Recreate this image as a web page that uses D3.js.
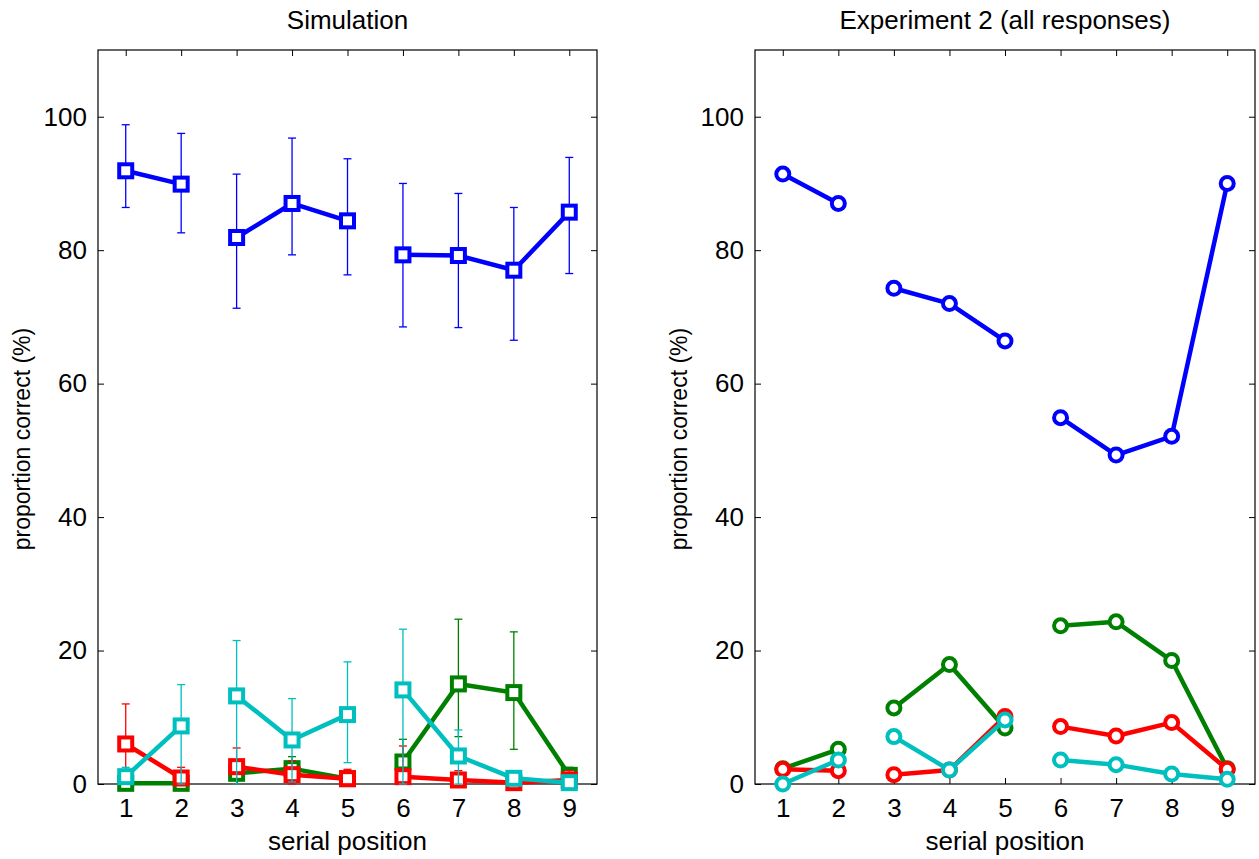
<!DOCTYPE html>
<html>
<head>
<meta charset="utf-8">
<script src="https://cdn.jsdelivr.net/npm/d3@7"></script>
<style>
  body { margin: 0; background: #fff; }
  text { font-family: "Liberation Sans", Arial, sans-serif; }
</style>
</head>
<body>
<div id="chart"></div>
<script>
// serial positions and line groups (lines are broken between groups)
const positions = [1, 2, 3, 4, 5, 6, 7, 8, 9];
const groups = [[1, 2], [3, 4, 5], [6, 7, 8, 9]];
const yTicks = [0, 20, 40, 60, 80, 100];

// Simulation panel: means and error bar ends
const simBlue   = [91.9, 89.9, 81.9, 87.0, 84.4, 79.3, 79.2, 77.0, 85.7];
const simBlueLo = [86.4, 82.6, 71.3, 79.3, 76.3, 68.5, 68.4, 66.5, 76.5];
const simBlueHi = [98.8, 97.5, 91.4, 96.8, 93.7, 90.0, 88.5, 86.4, 93.9];

const simGreen   = [0.1, 0.1, 1.6, 2.3, 0.8, 3.3, 15.0, 13.7, 1.3];
const simGreenLo = [0, 0, 0, 0.4, 0, 0, 7.1, 5.2, 0];
const simGreenHi = [0.5, 0.5, 3.5, 4.1, 2.0, 6.7, 24.7, 22.8, 2.5];

const simRed   = [6.0, 0.9, 2.6, 1.4, 0.8, 1.1, 0.6, 0.2, 0.6];
const simRedLo = [0, 0, 0, 0, 0, 0, 0, 0, 0];
const simRedHi = [12.0, 2.5, 5.4, 3.5, 2.2, 5.7, 2.0, 1.0, 2.0];

const simCyan   = [1.1, 8.7, 13.2, 6.6, 10.4, 14.1, 4.2, 0.85, 0.2];
const simCyanLo = [0, 0, 0, 0.3, 3.2, 0, 0, 0, 0];
const simCyanHi = [2.5, 14.9, 21.5, 12.8, 18.3, 23.2, 8.1, 2.0, 0.8];

// Experiment 2 panel
const expBlue  = [91.4, 87.0, 74.3, 72.0, 66.4, 54.9, 49.3, 52.1, 90.0];
const expGreen = [2.3, 5.2, 11.4, 17.9, 8.4, 23.7, 24.3, 18.5, 2.3];
const expRed   = [2.2, 2.0, 1.4, 2.1, 10.1, 8.6, 7.2, 9.2, 2.2];
const expCyan  = [0.0, 3.6, 7.1, 2.1, 9.6, 3.6, 2.9, 1.5, 0.7];

const colors = {blue: "#0000ff", green: "#008000", red: "#ff0000", cyan: "#00bfbf"};

const W = 1259, H = 859;
const fontSize = 26;
const svg = d3.select("#chart").append("svg")
    .attr("width", W)
    .attr("height", H);

function drawPanel(left, right, title, series, marker) {
  const top = 50, bottom = 784;
  const x = d3.scaleLinear().domain([0.5, 9.5]).range([left, right]);
  const y = d3.scaleLinear().domain([0, 110]).range([bottom, top]);
  const g = svg.append("g");

  // ticks (inward) on all four sides
  g.append("g").attr("transform", `translate(0,${bottom})`)
    .call(d3.axisBottom(x).tickValues(positions).tickSizeInner(-6).tickSizeOuter(0).tickPadding(15));
  g.append("g").attr("transform", `translate(0,${top})`)
    .call(d3.axisTop(x).tickValues(positions).tickSizeInner(-6).tickSizeOuter(0).tickFormat(""));
  g.append("g").attr("transform", `translate(${left},0)`)
    .call(d3.axisLeft(y).tickValues(yTicks).tickSizeInner(-6).tickSizeOuter(0).tickPadding(11));
  g.append("g").attr("transform", `translate(${right},0)`)
    .call(d3.axisRight(y).tickValues(yTicks).tickSizeInner(-6).tickSizeOuter(0).tickFormat(""));
  g.selectAll(".domain").remove();
  g.selectAll(".tick line").attr("stroke", "#000");
  g.selectAll(".tick text").attr("font-size", fontSize).attr("font-family", "Liberation Sans, Arial, sans-serif").attr("fill", "#000");

  g.append("rect")
    .attr("x", left).attr("y", top)
    .attr("width", right - left).attr("height", bottom - top)
    .attr("fill", "none").attr("stroke", "#000").attr("stroke-width", 1.2);

  // titles and labels
  g.append("text")
    .attr("x", (left + right) / 2).attr("y", 29)
    .attr("text-anchor", "middle").attr("font-size", fontSize)
    .text(title);
  g.append("text")
    .attr("x", (left + right) / 2).attr("y", 850)
    .attr("text-anchor", "middle").attr("font-size", fontSize)
    .text("serial position");
  g.append("text")
    .attr("transform", `translate(${left - 68},439) rotate(-90)`)
    .attr("text-anchor", "middle").attr("font-size", 23)
    .text("proportion correct (%)");

  const line = d3.line().x(d => x(d[0])).y(d => y(d[1]));

  series.forEach(s => {
    const pts = positions.map((p, i) => [p, s.values[i]]);
    // error bars
    if (s.lo) {
      const eb = g.append("g").attr("stroke", s.color).attr("stroke-width", 1.3);
      positions.forEach((p, i) => {
        const xs = x(p), y0 = y(s.lo[i]), y1 = y(s.hi[i]);
        eb.append("line").attr("x1", xs).attr("x2", xs).attr("y1", y0).attr("y2", y1);
        eb.append("line").attr("x1", xs - 4).attr("x2", xs + 4).attr("y1", y0).attr("y2", y0);
        eb.append("line").attr("x1", xs - 4).attr("x2", xs + 4).attr("y1", y1).attr("y2", y1);
      });
    }
    groups.forEach(grp => {
      g.append("path")
        .datum(grp.map(p => pts[p - 1]))
        .attr("d", line)
        .attr("fill", "none")
        .attr("stroke", s.color)
        .attr("stroke-width", 4.5)
        .attr("stroke-linejoin", "round");
    });
    if (marker === "square") {
      g.selectAll(null).data(pts).join("rect")
        .attr("x", d => x(d[0]) - 6.5).attr("y", d => y(d[1]) - 6.5)
        .attr("width", 13).attr("height", 13)
        .attr("fill", "#fff").attr("stroke", s.color).attr("stroke-width", 4);
    } else {
      g.selectAll(null).data(pts).join("circle")
        .attr("cx", d => x(d[0])).attr("cy", d => y(d[1]))
        .attr("r", 6.5)
        .attr("fill", "#fff").attr("stroke", s.color).attr("stroke-width", 4);
    }
  });
}

drawPanel(98, 597, "Simulation", [
  {values: simBlue, lo: simBlueLo, hi: simBlueHi, color: colors.blue},
  {values: simGreen, lo: simGreenLo, hi: simGreenHi, color: colors.green},
  {values: simRed, lo: simRedLo, hi: simRedHi, color: colors.red},
  {values: simCyan, lo: simCyanLo, hi: simCyanHi, color: colors.cyan}
], "square");

drawPanel(755, 1255, "Experiment 2 (all responses)", [
  {values: expBlue, color: colors.blue},
  {values: expGreen, color: colors.green},
  {values: expRed, color: colors.red},
  {values: expCyan, color: colors.cyan}
], "circle");
</script>
</body>
</html>
